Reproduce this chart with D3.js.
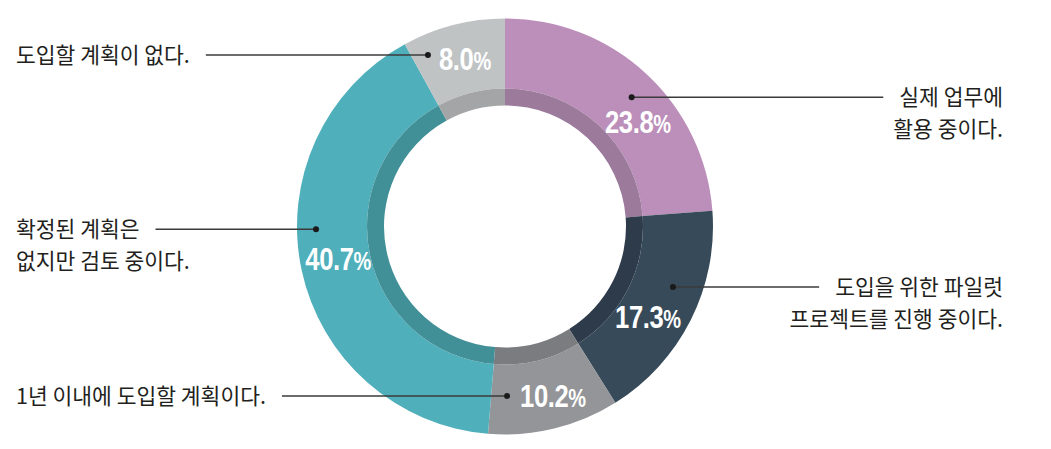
<!DOCTYPE html>
<html>
<head>
<meta charset="utf-8">
<script src="https://cdn.jsdelivr.net/npm/d3@7"></script>
<style>
  html, body { margin: 0; padding: 0; background: #fff; }
  svg { display: block; }
  .cat { font-family: "Noto Sans CJK KR", "Noto Sans", sans-serif; font-size: 21.5px; fill: #231f20; }
  .pct { font-family: "Liberation Sans", Arial, sans-serif; font-weight: bold; font-size: 32px; fill: #fff; }
</style>
</head>
<body>
<script>
// data, clockwise from 12 o'clock
const categories = [
  ['실제 업무에', '활용 중이다.'],
  ['도입을 위한 파일럿', '프로젝트를 진행 중이다.'],
  ['1년 이내에 도입할 계획이다.'],
  ['확정된 계획은', '없지만 검토 중이다.'],
  ['도입할 계획이 없다.']
];
const values = [23.8, 17.3, 10.2, 40.7, 8.0];
const colors = ['#bc8fba', '#364a59', '#939598', '#4fafbb', '#c0c3c4'];
const bandColors = ['#9b7a9b', '#2d3b4a', '#7b7c80', '#418f97', '#a4a5a7'];

// label layout (angle in degrees from 12 o'clock, radius in px)
const dotAt = [[44.4, 181], [109.8, 178.5], [179.3, 169.5], [269.2, 189], [335.8, 188]];
const pctAt = [[51.8, 169], [122.3, 169], [164.2, 176], [259, 170], [346.6, 173]];
const side = ['right', 'right', 'left', 'left', 'left'];

const w = 1051, h = 449, cx = 505, cy = 226.5;
const rOuter = 208, rBand = 138, rInner = 121;
const leftX = 16, rightX = 1003, lineH = 32, gap = 16;

const svg = d3.select('body').append('svg')
  .attr('width', w)
  .attr('height', h);

const pie = d3.pie().sort(null).value(d => d);
const arcs = pie(values);

const ring = d3.arc().innerRadius(rBand).outerRadius(rOuter);
const band = d3.arc().innerRadius(rInner).outerRadius(rBand);

const g = svg.append('g').attr('transform', `translate(${cx},${cy})`);

g.selectAll('.slice')
  .data(arcs)
  .enter()
  .append('path')
  .attr('class', 'slice')
  .attr('d', ring)
  .attr('fill', (d, i) => colors[i]);

g.selectAll('.band')
  .data(arcs)
  .enter()
  .append('path')
  .attr('class', 'band')
  .attr('d', band)
  .attr('fill', (d, i) => bandColors[i]);

const polar = ([deg, r]) => {
  const a = deg * Math.PI / 180;
  return [cx + r * Math.sin(a), cy - r * Math.cos(a)];
};

// category labels + leaders
categories.forEach((lines, i) => {
  const [dx, dy] = polar(dotAt[i]);
  const isLeft = side[i] === 'left';

  const t = svg.append('text')
    .attr('class', 'cat')
    .attr('text-anchor', isLeft ? 'start' : 'end');

  lines.forEach((line, j) => {
    t.append('tspan')
      .attr('x', isLeft ? leftX : rightX)
      .attr('y', dy + j * lineH + 8)
      .text(line);
  });

  const firstLen = t.select('tspan').node().getComputedTextLength();
  const x1 = isLeft ? leftX + firstLen + gap : rightX - firstLen - gap;

  svg.append('line')
    .attr('x1', x1).attr('y1', dy)
    .attr('x2', dx).attr('y2', dy)
    .attr('stroke', '#3b3b3b')
    .attr('stroke-width', 1.5);

  svg.append('circle')
    .attr('cx', dx).attr('cy', dy)
    .attr('r', 3)
    .attr('fill', '#1a1a1a');
});

// percentage labels (condensed by horizontal scaling)
values.forEach((v, i) => {
  const [px, py] = polar(pctAt[i]);
  const t = svg.append('text')
    .attr('class', 'pct')
    .attr('transform', `translate(${px},${py + 11.5}) scale(0.8,1)`)
    .attr('text-anchor', 'middle')
    .attr('letter-spacing', -0.5);
  t.append('tspan').text(v.toFixed(1));
  t.append('tspan').attr('font-size', 25).text('%');
});
</script>
</body>
</html>
